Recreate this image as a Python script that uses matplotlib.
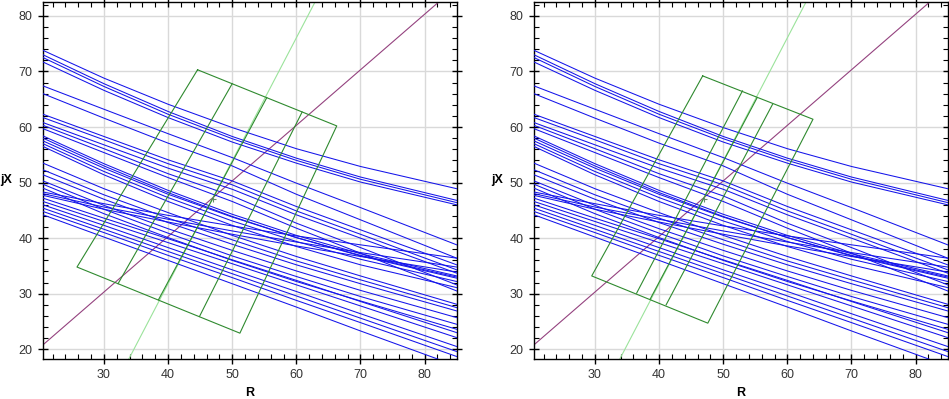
import matplotlib
matplotlib.use("Agg")
import matplotlib.pyplot as plt
from matplotlib.ticker import MultipleLocator

# ---- data ----
x_pts = [20.5, 30, 40, 50, 60, 70, 85]

curves = [
    # group A
    [73.8, 68.8, 64.1, 59.9, 56.1, 52.9, 48.9],
    [73.0, 67.8, 62.8, 58.3, 54.4, 51.0, 46.8],
    [72.5, 67.3, 62.3, 57.9, 54.0, 50.6, 46.4],
    [71.7, 66.6, 61.7, 57.3, 53.5, 50.1, 46.0],
    # group B
    [67.4, 63.2, 58.8, 54.5, 49.9, 45.5, 38.8],
    [66.0, 61.6, 57.1, 53.0, 47.9, 43.3, 36.4],
    # group C
    [62.3, 58.3, 54.1, 50.3, 45.7, 41.5, 35.2],
    [61.7, 57.7, 53.4, 49.6, 44.9, 40.7, 34.3],
    [60.8, 56.8, 52.6, 48.8, 44.2, 40.0, 33.7],
    [60.3, 56.1, 51.6, 47.6, 42.7, 38.3, 31.6],
    [59.7, 55.4, 50.9, 46.6, 41.8, 37.3, 30.5],
    # group D
    [58.4, 53.4, 48.6, 44.3, 40.5, 37.2, 33.2],
    [58.0, 53.0, 48.2, 43.9, 40.1, 36.8, 32.8],
    [57.5, 52.6, 47.9, 43.8, 40.1, 36.9, 33.0],
    [57.0, 52.0, 47.3, 43.1, 39.4, 36.2, 32.2],
    [56.5, 51.4, 46.6, 42.3, 38.5, 35.2, 31.1],
    # group E
    [53.5, 48.9, 44.6, 40.5, 36.7, 33.2, 28.1],
    [52.3, 47.8, 43.6, 39.7, 35.9, 32.5, 27.5],
    [51.4, 47.0, 42.8, 38.9, 35.2, 31.8, 26.9],
    # group F
    [50.3, 45.9, 41.7, 37.8, 34.1, 30.6, 25.7],
    [49.7, 45.2, 40.9, 36.8, 33.1, 29.5, 24.5],
    [49.0, 44.4, 40.1, 36.0, 32.2, 28.7, 23.6],
    [48.3, 46.2, 44.1, 42.2, 40.4, 38.8, 36.4],
    [48.0, 45.6, 43.4, 41.3, 39.3, 37.4, 34.8],
    [47.7, 45.2, 42.9, 40.7, 38.6, 36.7, 33.9],
    [47.2, 43.6, 39.9, 36.1, 32.4, 28.6, 23.0],
    [46.6, 43.0, 39.2, 35.4, 31.6, 27.8, 22.1],
    [46.0, 42.3, 38.3, 34.3, 30.4, 26.4, 20.5],
    [45.4, 41.6, 37.6, 33.6, 29.6, 25.6, 19.6],
    [44.8, 41.0, 36.9, 32.9, 28.8, 24.8, 18.7],
    [44.2, 40.2, 36.0, 31.8, 27.6, 23.3, 17.0],
]

diag_x = [20.0, 85.5]
diag_y = [20.3, 85.8]
steep_x = [33.0, 64.0]
steep_y = [16.3, 84.9]
center_x = [47.0]
center_y = [47.0]

# grid quadrilaterals: outline corners (TL, TR, BR, BL) and interior line endpoints
left_outline_x = [44.6, 66.3, 51.2, 25.8, 44.6]
left_outline_y = [70.3, 60.2, 22.9, 34.8, 70.3]
left_inner_top_x = [50.0, 55.4, 60.9]
left_inner_top_y = [67.8, 65.3, 62.7]
left_inner_bot_x = [32.2, 38.5, 44.9]
left_inner_bot_y = [31.8, 28.9, 25.9]

right_outline_x = [46.8, 64.0, 47.6, 29.5, 46.8]
right_outline_y = [69.2, 61.4, 24.7, 33.2, 69.2]
right_inner_top_x = [53.0, 55.3, 57.7]
right_inner_top_y = [66.5, 65.3, 64.1]
right_inner_bot_x = [36.5, 38.6, 41.1]
right_inner_bot_y = [30.1, 29.0, 28.0]

plt.rcParams['font.family'] = ['Liberation Sans', 'DejaVu Sans']

fig = plt.figure(figsize=(9.49, 3.99), dpi=100)
ax1 = fig.add_axes([43/949, 40/399, 414/949, 357/399])
ax2 = fig.add_axes([534/949, 40/399, 414/949, 357/399])

panels = [
    (ax1, left_outline_x, left_outline_y, left_inner_top_x, left_inner_top_y, left_inner_bot_x, left_inner_bot_y),
    (ax2, right_outline_x, right_outline_y, right_inner_top_x, right_inner_top_y, right_inner_bot_x, right_inner_bot_y),
]

for ax, ox, oy, itx, ity, ibx, iby in panels:
    ax.set_xlim(20.5, 85.05)
    ax.set_ylim(18.25, 82.5)
    ax.xaxis.set_major_locator(MultipleLocator(10))
    ax.xaxis.set_minor_locator(MultipleLocator(2))
    ax.yaxis.set_major_locator(MultipleLocator(10))
    ax.yaxis.set_minor_locator(MultipleLocator(2))
    ax.grid(True, which='major', color='#d9d9d9', linewidth=1.0, zorder=0)
    ax.set_axisbelow(True)

    ax.plot(diag_x, diag_y, color='#94427f', linewidth=0.8, zorder=2)
    ax.plot(steep_x, steep_y, color='#9be39b', linewidth=0.8, zorder=2)
    for c in curves:
        ax.plot(x_pts, c, color='#1414ea', linewidth=0.75, zorder=3)
    ax.plot(ox, oy, color='#2f8a2f', linewidth=0.8, zorder=4)
    for i in range(len(itx)):
        ax.plot([itx[i], ibx[i]], [ity[i], iby[i]], color='#2f8a2f', linewidth=0.8, zorder=4)
    ax.plot(center_x, center_y, marker='+', markersize=4, color='#6a8a6a',
            linestyle='none', markeredgewidth=0.8, zorder=5)

    ax.tick_params(which='major', direction='inout', length=7, width=1.0,
                   top=True, right=True, labelsize=9, labelcolor='#333333', pad=4)
    ax.tick_params(which='minor', direction='in', length=3.5, width=0.8,
                   top=True, right=True)
    for s in ax.spines.values():
        s.set_linewidth(1.0)
        s.set_color('black')
    ax.set_xlabel('R', fontsize=9, fontweight='bold', labelpad=4)
    ax.set_ylabel('jX', fontsize=9, fontweight='bold', rotation=0, labelpad=9, va='center')

fig.savefig('out.png', dpi=100)
